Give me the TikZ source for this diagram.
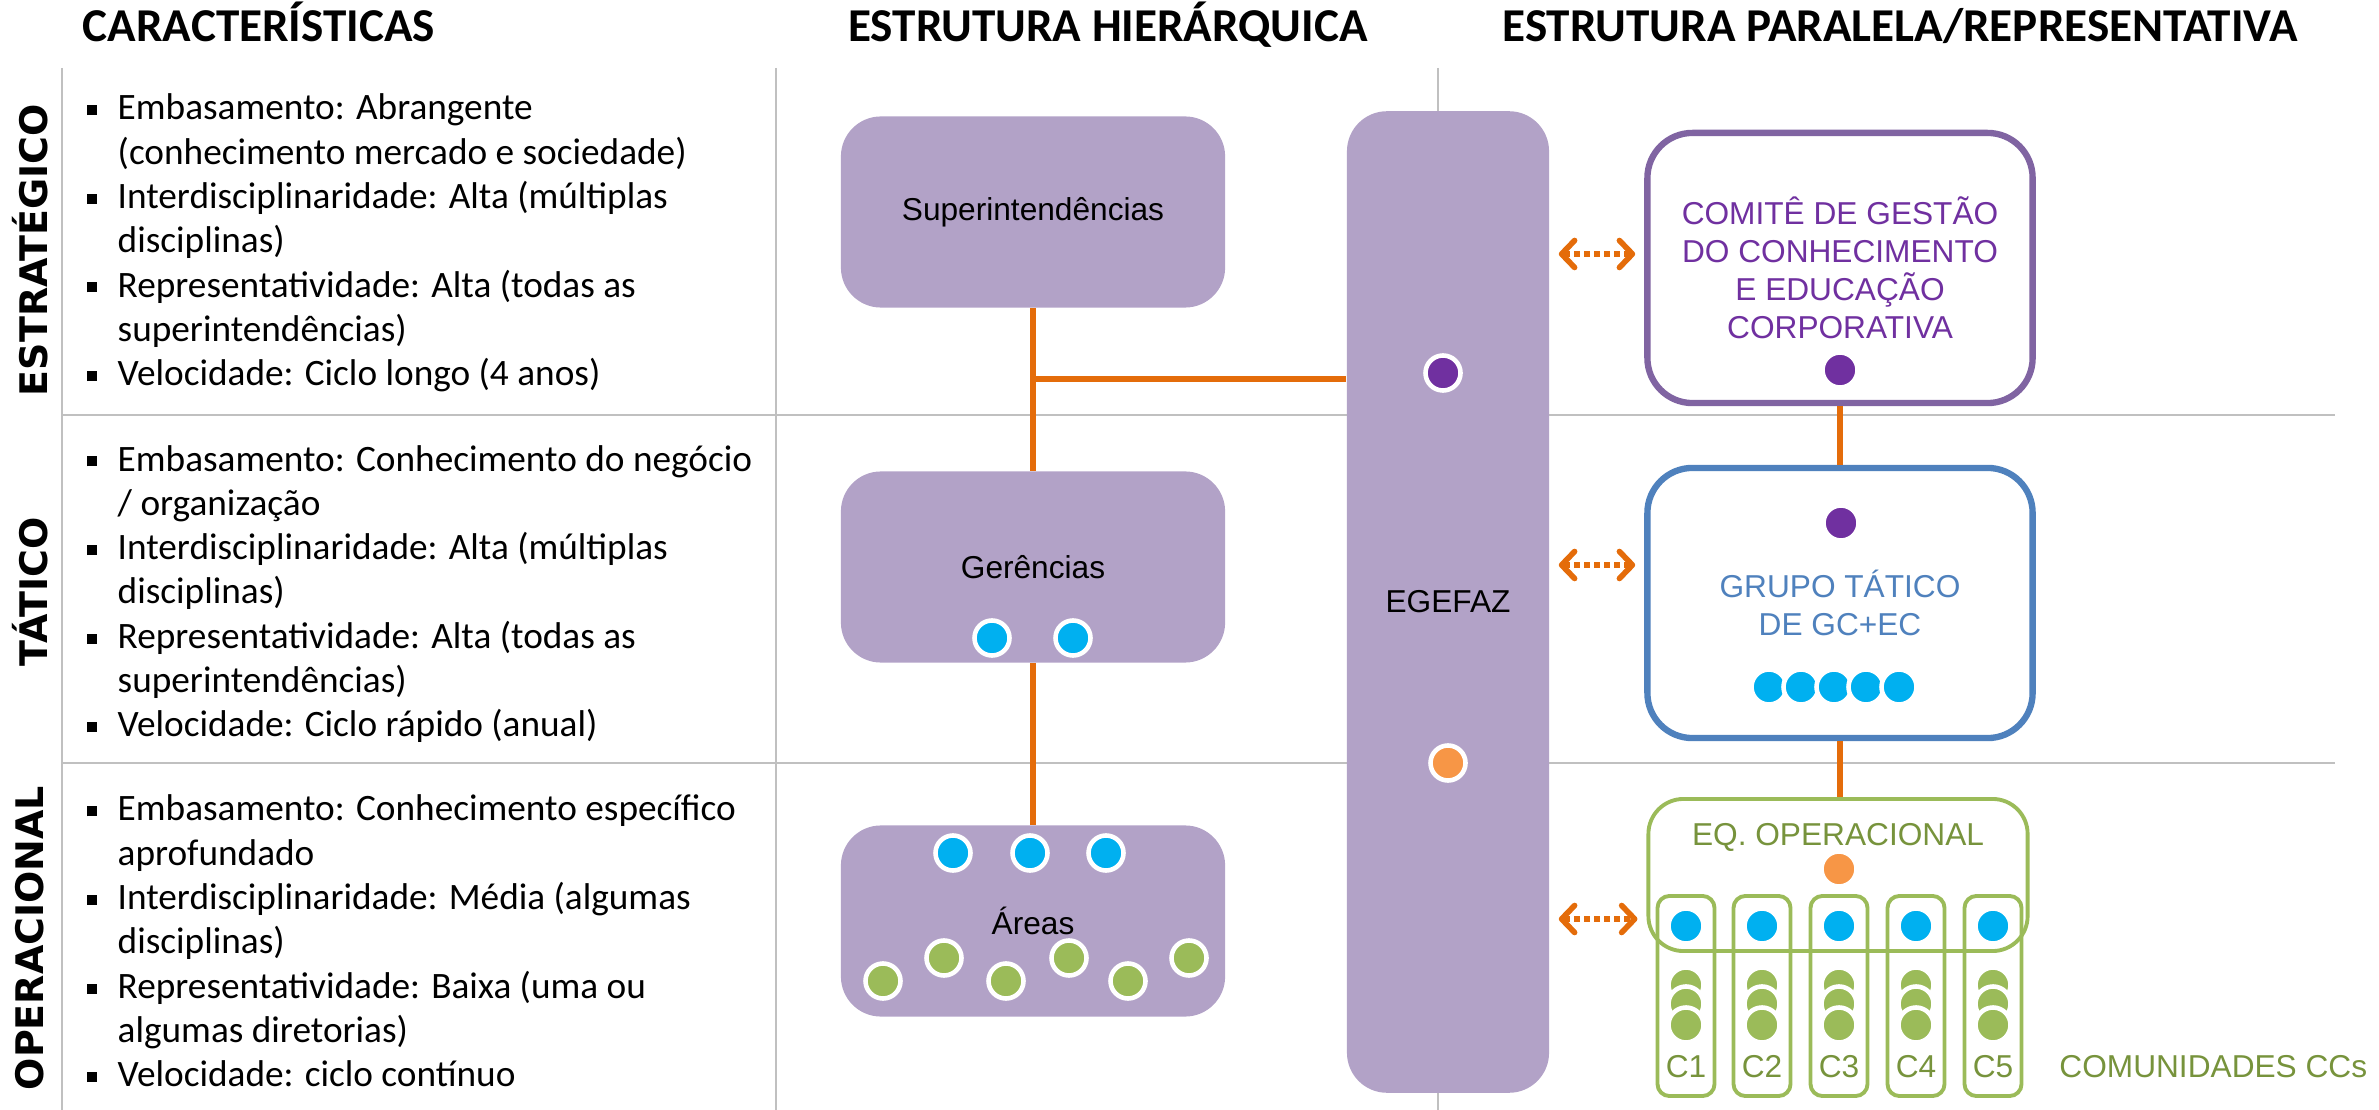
\documentclass[tikz,border=0pt]{standalone}
\usepackage{fontspec}
\setmainfont{Carlito}
\newfontfamily\caixafont{Liberation Sans}
\newfontfamily\nivelfont{DejaVu Sans}
\usetikzlibrary{arrows.meta}

\definecolor{lavanda}{HTML}{B2A2C7}
\definecolor{roxo}{HTML}{7030A0}
\definecolor{roxoborda}{HTML}{8064A2}
\definecolor{azul}{HTML}{4F81BD}
\definecolor{ciano}{HTML}{00B0F0}
\definecolor{verde}{HTML}{9BBB59}
\definecolor{verdeescuro}{HTML}{77933C}
\definecolor{laranja}{HTML}{E46C0A}
\definecolor{laranjaclaro}{HTML}{F79646}
\definecolor{grade}{HTML}{C0C0C0}

\newcommand{\marca}{\hspace*{-0.03cm}\makebox[0.31cm][l]{\rule[1.3pt]{0.1cm}{0.1cm}}}
\newcommand{\recuo}{\hspace*{0.28cm}}

\begin{document}
\begin{tikzpicture}[x=0.01cm,y=-0.01cm,>={Straight Barb[length=0.13cm,width=0.27cm,round]},
	titulo/.style={anchor=base,font=\bfseries\fontsize{13.4}{15}\selectfont},
	nivel/.style={rotate=90,font=\nivelfont\bfseries\fontsize{10.8}{12}\selectfont},
	lista/.style={anchor=west,align=left,inner sep=0pt,font=\fontsize{10.6}{12.6}\selectfont},
	caixa/.style={fill=lavanda,rounded corners=0.4cm,minimum width=3.84cm,minimum height=1.91cm,font=\caixafont\fontsize{9}{11}\selectfont},
	quadro/.style={draw,fill=white,line width=1.8pt,rounded corners=0.45cm,minimum width=3.85cm,minimum height=2.70cm,align=center,font=\caixafont\fontsize{9}{10.8}\selectfont},
	coluna/.style={draw=verde,line width=1.1pt,rounded corners=0.12cm,minimum width=0.57cm,minimum height=2.0cm},
	ponto/.style={circle,draw=white,line width=1.3pt,minimum size=0.35cm,inner sep=0pt},
	rotulo/.style={text=verdeescuro,font=\caixafont\fontsize{9}{11}\selectfont},
	ramo/.style={laranja,line width=1.5pt},
	dupla/.style={<->,laranja,line width=1.6pt,dash pattern=on 0.055cm off 0.045cm,shorten <=0.09cm,shorten >=0.09cm},
	grelha/.style={grade,line width=0.8pt}]
	\useasboundingbox (0,0) rectangle (2379,1110);

	%grade
	\draw[grelha] (62,68) -- (62,1110);
	\draw[grelha] (776,68) -- (776,1110);
	\draw[grelha] (1438,68) -- (1438,1110);
	\draw[grelha] (62,415) -- (2335,415);
	\draw[grelha] (62,763) -- (2335,763);

	%titulos
	\node[titulo] (tcar) at (259,42) {CARACTERÍSTICAS};
	\node[titulo] (thier) at (1108,42) {ESTRUTURA HIERÁRQUICA};
	\node[titulo] (tpar) at (1900,42) {ESTRUTURA PARALELA/REPRESENTATIVA};

	%niveis
	\node[nivel] (nest) at (30,250) {ESTRATÉGICO};
	\node[nivel] (ntat) at (30,592) {TÁTICO};
	\node[nivel] (nope) at (30,938) {OPERACIONAL};

	%caracteristicas
	\node[lista] (lest) at (89,243) {\marca Embasamento: Abrangente\\ \recuo(conhecimento mercado e sociedade)\\ \marca Interdisciplinaridade: Alta (múltiplas\\ \recuo disciplinas)\\ \marca Representatividade: Alta (todas as\\ \recuo superintendências)\\ \marca Velocidade: Ciclo longo (4 anos)};
	\node[lista] (ltat) at (89,594) {\marca Embasamento: Conhecimento do negócio\\ \recuo / organização\\ \marca Interdisciplinaridade: Alta (múltiplas\\ \recuo disciplinas)\\ \marca Representatividade: Alta (todas as\\ \recuo superintendências)\\ \marca Velocidade: Ciclo rápido (anual)};
	\node[lista] (lope) at (89,941) {\marca Embasamento: Conhecimento específico\\ \recuo aprofundado\\ \marca Interdisciplinaridade: Média (algumas\\ \recuo disciplinas)\\ \marca Representatividade: Baixa (uma ou\\ \recuo algumas diretorias)\\ \marca Velocidade: ciclo contínuo};

	%estrutura hierarquica
	\node[caixa] (sup) at (1033,212) {Superintendências};
	\node[caixa] (ger) at (1033,567) {Gerências};
	\node[caixa] (areas) at (1033,921) {Áreas};
	\node[caixa,minimum width=2.02cm,minimum height=9.81cm] (egefaz) at (1448,602) {EGEFAZ};
	\coordinate (juncao) at (sup.south |- 0,379);
	\draw[ramo] (sup.south) -- (ger.north);
	\draw[ramo] (ger.south) -- (areas.north);
	\draw[ramo] (juncao) -- (juncao -| egefaz.west);

	\node[ponto,fill=roxo] (egroxo) at (1443,373) {};
	\node[ponto,fill=laranjaclaro] (eglar) at (1448,763) {};
	\node[ponto,fill=ciano] (ger1) at (992,638) {};
	\node[ponto,fill=ciano] (ger2) at (1073,638) {};
	\node[ponto,fill=ciano] (ar1) at (953,853) {};
	\node[ponto,fill=ciano] (ar2) at (1030,853) {};
	\node[ponto,fill=ciano] (ar3) at (1106,853) {};
	\node[ponto,fill=verde] (av1) at (883,981) {};
	\node[ponto,fill=verde] (av2) at (944,958) {};
	\node[ponto,fill=verde] (av3) at (1006,981) {};
	\node[ponto,fill=verde] (av4) at (1069,958) {};
	\node[ponto,fill=verde] (av5) at (1128,981) {};
	\node[ponto,fill=verde] (av6) at (1189,958) {};

	%estrutura paralela
	\node[quadro,draw=roxoborda,text=roxo] (comite) at (1840,268) {COMITÊ DE GESTÃO\\DO CONHECIMENTO\\E EDUCAÇÃO\\CORPORATIVA};
	\node[quadro,draw=azul,text=azul] (grupo) at (1840,603) {GRUPO TÁTICO\\DE GC+EC};
	\node[quadro,draw=verde,line width=1.1pt,rounded corners=0.35cm,minimum width=3.79cm,minimum height=1.52cm] (eqop) at (1838,875) {};
	\node[rotulo] (eqtxt) at (1838,837) {EQ. OPERACIONAL};
	\draw[ramo] (comite.south) -- (grupo.north);
	\draw[ramo] (grupo.south) -- (grupo.south |- eqop.north);

	\node[ponto,fill=roxo] (comroxo) at (1840,370) {};
	\node[ponto,fill=roxo] (gruroxo) at (1841,523) {};
	\node[ponto,fill=ciano] (gc1) at (1769,687) {};
	\node[ponto,fill=ciano] (gc2) at (1801,687) {};
	\node[ponto,fill=ciano] (gc3) at (1834,687) {};
	\node[ponto,fill=ciano] (gc4) at (1866,687) {};
	\node[ponto,fill=ciano] (gc5) at (1899,687) {};
	\node[ponto,fill=laranjaclaro] (eqlar) at (1839,869) {};

	%comunidades
	\foreach \i/\cx in {1/1686,2/1762,3/1839,4/1916,5/1993}{
		\node[coluna] (col\i) at (\cx,996) {};
		\node[ponto,fill=ciano] (cc\i) at (\cx,926) {};
		\node[ponto,fill=verde] (cv\i-a) at (\cx,985) {};
		\node[ponto,fill=verde] (cv\i-b) at (\cx,1004) {};
		\node[ponto,fill=verde] (cv\i-c) at (\cx,1025) {};
		\node[rotulo] (cl\i) at (\cx,1067) {C\i};
	}
	\node[rotulo,anchor=west] (comun) at (2047,1067) {COMUNIDADES CCs};

	%ligacoes
	\draw[dupla] (egefaz.east |- 0,254) -- (comite.west |- 0,254);
	\draw[dupla] (egefaz.east |- 0,565) -- (grupo.west |- 0,565);
	\draw[dupla] (egefaz.east |- 0,919) -- (eqop.west |- 0,919);
\end{tikzpicture}
\end{document}
